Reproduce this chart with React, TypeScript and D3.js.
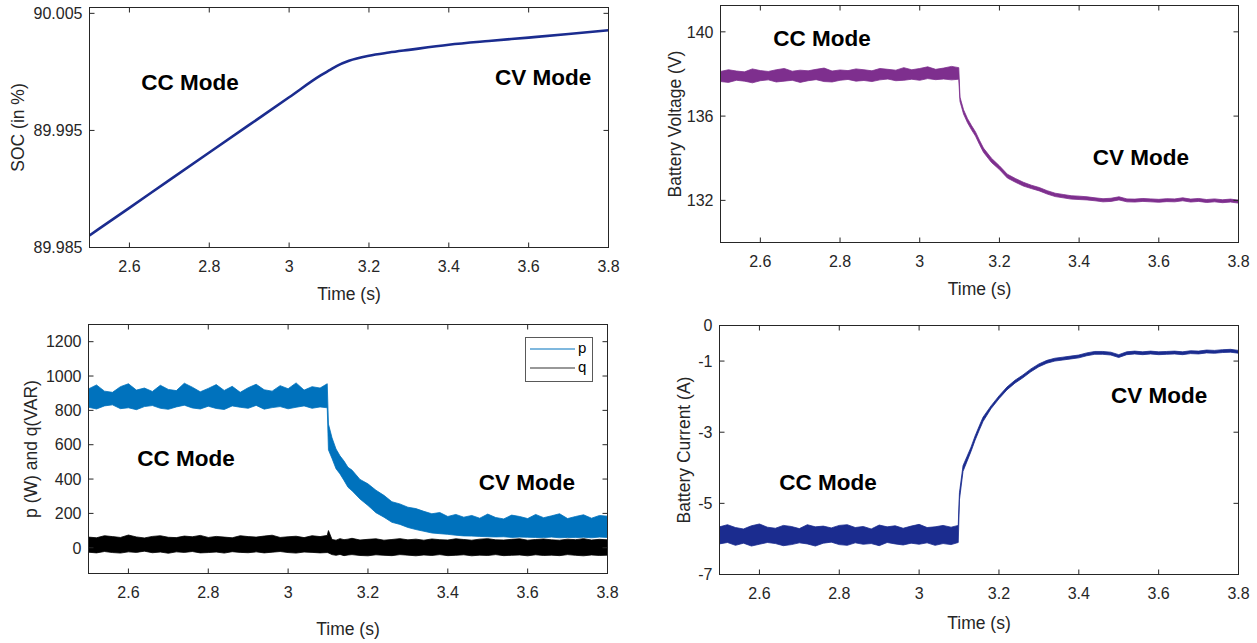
import React from "react";
import * as d3 from "d3";

// time axis (s)
const timeTicks = [2.6, 2.8, 3.0, 3.2, 3.4, 3.6, 3.8];

// SOC (%) - smooth trace
const socTime = [2.5, 2.6, 2.7, 2.8, 2.9, 3.0, 3.08, 3.1, 3.12, 3.15, 3.2, 3.25, 3.3, 3.4, 3.5, 3.6, 3.7, 3.8];
const socValue = [
  89.98603, 89.98839, 89.99075, 89.99311, 89.99547, 89.99783, 89.99972, 90.00012, 90.00052,
  90.00095, 90.00138, 90.00165, 90.00188, 90.00232, 90.00264, 90.00293, 90.00323, 90.00355,
];

// sample times of the noisy traces (upper / lower envelope)
const noisyTime = [
  2.5, 2.52, 2.54, 2.56, 2.58, 2.6, 2.62, 2.64, 2.66, 2.68, 2.7, 2.72, 2.74, 2.76, 2.78, 2.8,
  2.82, 2.84, 2.86, 2.88, 2.9, 2.92, 2.94, 2.96, 2.98, 3.0, 3.02, 3.04, 3.06, 3.08, 3.098,
  3.101, 3.11, 3.12, 3.13, 3.14, 3.15, 3.16, 3.18, 3.2, 3.22, 3.24, 3.26, 3.28, 3.3, 3.32,
  3.34, 3.36, 3.38, 3.4, 3.42, 3.44, 3.46, 3.48, 3.5, 3.52, 3.54, 3.56, 3.58, 3.6, 3.62,
  3.64, 3.66, 3.68, 3.7, 3.72, 3.74, 3.76, 3.78, 3.8,
];

// battery voltage (V)
const voltageHigh = [
  138.12, 138.2, 138.14, 138.1, 138.24, 138.16, 138.12, 138.2, 138.26, 138.13, 138.18, 138.15,
  138.22, 138.28, 138.14, 138.19, 138.16, 138.24, 138.2, 138.15, 138.26, 138.22, 138.18, 138.3,
  138.2, 138.26, 138.34, 138.22, 138.28, 138.36, 138.3,
  136.9, 136.3, 135.88, 135.55, 135.25, 134.85, 134.48, 134.0, 133.64, 133.24, 133.04, 132.86,
  132.72, 132.61, 132.46, 132.34, 132.28, 132.22, 132.2, 132.17, 132.12, 132.08, 132.1, 132.17,
  132.07, 132.06, 132.09, 132.07, 132.05, 132.08, 132.07, 132.12, 132.06, 132.09, 132.04,
  132.07, 132.03, 132.06, 132.01,
];
const voltageLow = [
  137.64, 137.6, 137.7, 137.66, 137.58, 137.68, 137.72, 137.62, 137.66, 137.7, 137.6, 137.68,
  137.73, 137.64, 137.62, 137.7, 137.74, 137.66, 137.69, 137.64, 137.72, 137.76, 137.68, 137.7,
  137.75, 137.7, 137.78, 137.73, 137.76, 137.72, 137.75,
  136.7, 136.1, 135.68, 135.35, 135.05, 134.65, 134.28, 133.8, 133.46, 133.06, 132.86, 132.68,
  132.56, 132.45, 132.3, 132.18, 132.12, 132.06, 132.04, 132.02, 131.98, 131.93, 131.95, 132.02,
  131.93, 131.92, 131.95, 131.93, 131.91, 131.94, 131.93, 131.98, 131.92, 131.95, 131.9,
  131.93, 131.89, 131.92, 131.87,
];

// active power p (W)
const pHigh = [
  925, 948, 912, 905, 938, 955, 918, 930, 910, 946, 922, 915, 958, 935, 908, 928, 950, 916,
  940, 905, 932, 952, 920, 912, 944, 926, 960, 918, 938, 930, 955,
  720, 640, 575, 535, 505, 468, 452, 398, 372, 335, 305, 268, 255, 236, 228, 212, 198, 205,
  182, 194, 178, 188, 172, 196, 176, 168, 190, 182, 170, 194, 175, 186, 198, 170, 182, 192,
  172, 188, 184,
];
const pLow = [
  818, 808, 826, 832, 810, 815, 804, 822, 828, 812, 806, 820, 830, 814, 808, 824, 811, 805,
  826, 818, 812, 829, 807, 816, 822, 809, 818, 826, 812, 820, 815,
  570, 520, 460, 430, 392, 352, 332, 284, 246, 204, 178, 148, 136, 118, 106, 96, 86, 82, 78,
  73, 69, 68, 66, 64, 63, 64, 60, 62, 61, 60, 59, 62, 58, 60, 59, 61, 58, 62, 60,
];

// reactive power q (VAR)
const qHigh = [
  62, 58, 70, 65, 60, 74, 63, 57, 66, 70, 61, 59, 68, 64, 72, 60, 66, 62, 58, 70, 65, 62, 68,
  73, 60, 64, 67, 59, 70, 65, 72,
  100, 48, 44, 53, 47, 50, 55, 45, 49, 52, 44, 48, 53, 46, 50, 44, 51, 47, 45, 52, 48, 44, 50,
  53, 46, 45, 49, 52, 44, 48, 51, 46, 44, 50, 47, 53, 45, 49, 46,
];
const qLow = [
  -26, -30, -22, -28, -31, -24, -27, -20, -29, -25, -32, -24, -27, -22, -30, -28, -25, -31,
  -23, -27, -29, -24, -30, -26, -22, -28, -31, -25, -27, -30, -28,
  -30, -40, -44, -39, -46, -42, -40, -45, -47, -41, -44, -46, -40, -43, -47, -42, -45, -40,
  -46, -44, -41, -47, -43, -45, -40, -46, -44, -42, -47, -41, -45, -43, -46, -40, -44, -47,
  -42, -45, -43,
];

// battery current (A)
const currentHigh = [
  -5.66, -5.6, -5.68, -5.72, -5.63, -5.58, -5.67, -5.7, -5.62, -5.65, -5.71, -5.6, -5.66,
  -5.64, -5.69, -5.62, -5.6, -5.68, -5.65, -5.72, -5.61, -5.66, -5.63, -5.7, -5.64, -5.59,
  -5.68, -5.66, -5.62, -5.67, -5.62,
  -4.7, -3.94, -3.68, -3.42, -3.11, -2.84, -2.58, -2.26, -1.98, -1.73, -1.54, -1.39, -1.22,
  -1.08, -0.98, -0.92, -0.89, -0.86, -0.83, -0.77, -0.73, -0.73, -0.75, -0.82, -0.74, -0.72,
  -0.74, -0.72, -0.74, -0.73, -0.72, -0.74, -0.71, -0.72, -0.69, -0.7, -0.68, -0.67, -0.7,
];
const currentLow = [
  -6.14, -6.1, -6.18, -6.12, -6.2, -6.15, -6.1, -6.13, -6.19, -6.16, -6.11, -6.14, -6.2,
  -6.12, -6.09, -6.16, -6.18, -6.11, -6.15, -6.13, -6.19, -6.1, -6.14, -6.17, -6.12, -6.15,
  -6.11, -6.18, -6.13, -6.16, -6.1,
  -4.9, -4.1, -3.82, -3.54, -3.23, -2.96, -2.7, -2.34, -2.06, -1.81, -1.62, -1.47, -1.3, -1.16,
  -1.06, -1.0, -0.97, -0.94, -0.91, -0.85, -0.81, -0.81, -0.83, -0.9, -0.82, -0.8, -0.82, -0.8,
  -0.82, -0.81, -0.8, -0.82, -0.79, -0.8, -0.77, -0.78, -0.76, -0.75, -0.78,
];

const FONT = "'Liberation Sans', Arial, Helvetica, sans-serif";
const AXIS_COLOR = "#262626";

function Panel({ id, frame, yDomain, yTicks, yFormat, yTitle, yTitleX, xTitleY, notes, children }) {
  const x = d3.scaleLinear().domain([2.5, 3.8]).range([frame.left, frame.right]);
  const y = d3.scaleLinear().domain(yDomain).range([frame.bottom, frame.top]);
  const tickLen = 5;
  const midX = (frame.left + frame.right) / 2;
  const midY = (frame.top + frame.bottom) / 2;

  return (
    <g>
      <defs>
        <clipPath id={id}>
          <rect x={frame.left} y={frame.top} width={frame.right - frame.left} height={frame.bottom - frame.top} />
        </clipPath>
      </defs>
      <g clipPath={`url(#${id})`}>{children(x, y)}</g>

      <rect
        x={frame.left}
        y={frame.top}
        width={frame.right - frame.left}
        height={frame.bottom - frame.top}
        fill="none"
        stroke={AXIS_COLOR}
        strokeWidth={1}
      />

      {/* x ticks, bottom and top, pointing inward */}
      {timeTicks.map((t) => (
        <g key={"xt" + t}>
          <line x1={x(t)} x2={x(t)} y1={frame.bottom} y2={frame.bottom - tickLen} stroke={AXIS_COLOR} />
          <line x1={x(t)} x2={x(t)} y1={frame.top} y2={frame.top + tickLen} stroke={AXIS_COLOR} />
          <text x={x(t)} y={frame.bottom + 24} textAnchor="middle" fontSize={16} fill={AXIS_COLOR}>
            {String(+t.toFixed(1))}
          </text>
        </g>
      ))}

      {/* y ticks, left and right */}
      {yTicks.map((v) => (
        <g key={"yt" + v}>
          <line x1={frame.left} x2={frame.left + tickLen} y1={y(v)} y2={y(v)} stroke={AXIS_COLOR} />
          <line x1={frame.right} x2={frame.right - tickLen} y1={y(v)} y2={y(v)} stroke={AXIS_COLOR} />
          <text x={frame.left - 7} y={y(v)} dy="0.36em" textAnchor="end" fontSize={16} fill={AXIS_COLOR}>
            {yFormat(v)}
          </text>
        </g>
      ))}

      <text x={midX} y={xTitleY} textAnchor="middle" fontSize={17.5} fill={AXIS_COLOR}>
        Time (s)
      </text>
      <text
        transform={`translate(${yTitleX},${midY}) rotate(-90)`}
        textAnchor="middle"
        dominantBaseline="central"
        fontSize={17.5}
        fill={AXIS_COLOR}
      >
        {yTitle}
      </text>

      {notes.map((n) => (
        <text
          key={n.text}
          x={x(n.t)}
          y={y(n.v)}
          textAnchor="middle"
          dominantBaseline="central"
          fontSize={22.5}
          fontWeight="bold"
          fill="#000"
        >
          {n.text}
        </text>
      ))}
    </g>
  );
}

function bandPath(x, y, high, low) {
  return d3
    .area()
    .x((_, i) => x(noisyTime[i]))
    .y0((_, i) => y(low[i]))
    .y1((d) => y(d))(high);
}

export default function App() {
  const socLine = (x, y) =>
    d3
      .line()
      .x((_, i) => x(socTime[i]))
      .y((d) => y(d))
      .curve(d3.curveMonotoneX)(socValue);

  const plain = (v) => String(v);

  return (
    <svg
      width={1257}
      height={643}
      style={{ position: "absolute", left: 0, top: 0, background: "#fff" }}
      fontFamily={FONT}
    >
      <Panel
        id="clip-soc"
        frame={{ left: 89.5, right: 608.5, top: 7.5, bottom: 247.5 }}
        yDomain={[89.985, 90.0055]}
        yTicks={[89.985, 89.995, 90.005]}
        yFormat={(v) => v.toFixed(3)}
        yTitle="SOC (in %)"
        yTitleX={18}
        xTitleY={300}
        notes={[
          { text: "CC Mode", t: 2.752, v: 89.99909 },
          { text: "CV Mode", t: 3.636, v: 89.99952 },
        ]}
      >
        {(x, y) => <path d={socLine(x, y)} fill="none" stroke="#1b2c8f" strokeWidth={2.6} />}
      </Panel>

      <Panel
        id="clip-volt"
        frame={{ left: 720.5, right: 1238.5, top: 5.5, bottom: 242.5 }}
        yDomain={[130, 141.25]}
        yTicks={[132, 136, 140]}
        yFormat={plain}
        yTitle="Battery Voltage (V)"
        yTitleX={675}
        xTitleY={295}
        notes={[
          { text: "CC Mode", t: 2.755, v: 139.68 },
          { text: "CV Mode", t: 3.555, v: 134.03 },
        ]}
      >
        {(x, y) => (
          <path d={bandPath(x, y, voltageHigh, voltageLow)} fill="#7e2f8e" stroke="#7e2f8e" strokeWidth={0.8} />
        )}
      </Panel>

      <Panel
        id="clip-pq"
        frame={{ left: 88.5, right: 607.5, top: 324.5, bottom: 573.5 }}
        yDomain={[-150, 1300]}
        yTicks={[0, 200, 400, 600, 800, 1000, 1200]}
        yFormat={plain}
        yTitle="p (W) and q(VAR)"
        yTitleX={31}
        xTitleY={635}
        notes={[
          { text: "CC Mode", t: 2.744, v: 520 },
          { text: "CV Mode", t: 3.598, v: 380 },
        ]}
      >
        {(x, y) => (
          <g>
            <path d={bandPath(x, y, pHigh, pLow)} fill="#0072bd" stroke="#0072bd" strokeWidth={0.8} />
            <path d={bandPath(x, y, qHigh, qLow)} fill="#000" stroke="#000" strokeWidth={0.8} />
          </g>
        )}
      </Panel>

      {/* legend */}
      <g>
        <rect x={525.5} y={337.5} width={67} height={44} fill="#fff" stroke="#595959" strokeWidth={1} />
        <line x1={530} x2={575} y1={349} y2={349} stroke="#0072bd" strokeWidth={1.2} />
        <line x1={530} x2={575} y1={368} y2={368} stroke="#333" strokeWidth={1.2} />
        <text x={578} y={353} fontSize={15} fill="#000">p</text>
        <text x={578} y={372} fontSize={15} fill="#000">q</text>
      </g>

      <Panel
        id="clip-curr"
        frame={{ left: 719.5, right: 1238.5, top: 325.5, bottom: 574.5 }}
        yDomain={[-7, 0]}
        yTicks={[0, -1, -3, -5, -7]}
        yFormat={plain}
        yTitle="Battery Current (A)"
        yTitleX={684}
        xTitleY={629}
        notes={[
          { text: "CC Mode", t: 2.772, v: -4.41 },
          { text: "CV Mode", t: 3.601, v: -1.97 },
        ]}
      >
        {(x, y) => (
          <path d={bandPath(x, y, currentHigh, currentLow)} fill="#1b2c8f" stroke="#1b2c8f" strokeWidth={0.8} />
        )}
      </Panel>
    </svg>
  );
}
